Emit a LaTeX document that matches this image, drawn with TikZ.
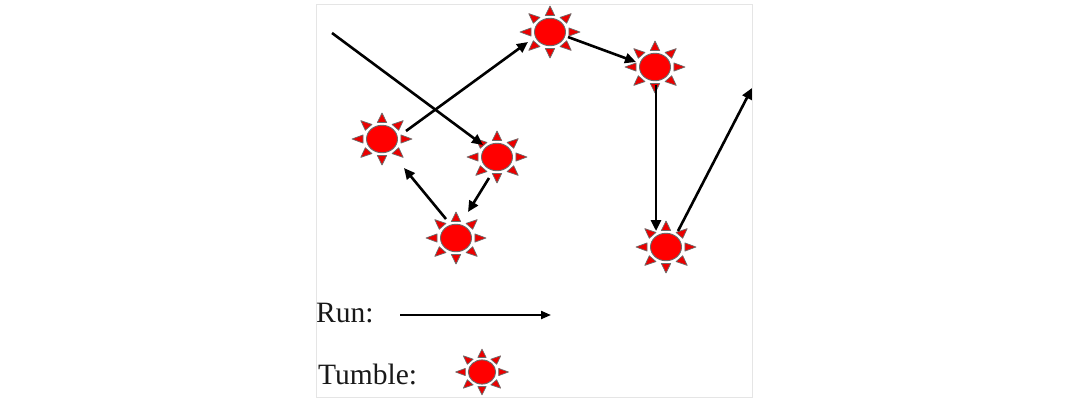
\documentclass[tikz,border=0pt]{standalone}
\usepackage{fontspec}
\setmainfont{Liberation Serif}
\usetikzlibrary{arrows.meta,shapes.geometric}
\definecolor{rayedge}{gray}{0.42}
\tikzset{
  x=1pt,y=-1pt,
  sunbody/.style={ellipse,draw=rayedge,line width=0.9pt,fill=red,inner sep=0pt},
  sunray/.style={draw=rayedge,line width=0.7pt,fill=red!92!black,line join=round},
  runarrow/.style={draw=black,line width=2.6pt,-{Triangle[length=11pt,width=10pt]}},
  legendarrow/.style={draw=black,line width=2.1pt,-{Triangle[length=10pt,width=8pt]}},
  caption/.style={anchor=base west,inner sep=0pt,font=\fontsize{29.5}{32}\selectfont,text=black!90},
}
\newcommand{\sunburst}[4]{%
  \node[sunbody,minimum width=#4*31pt,minimum height=#4*27.5pt] (#1) at (#2,#3) {};
  \foreach \t in {0,45,...,315}{
    \draw[sunray] ([shift={(\t:#4*30 and #4*26)}]#1.center)
      -- ([shift={(\t-14:#4*19.5 and #4*17)}]#1.center)
      -- ([shift={(\t+14:#4*19.5 and #4*17)}]#1.center) -- cycle;
  }%
}
\begin{document}
\begin{tikzpicture}
\useasboundingbox (0,0) rectangle (1065,400);
\fill[white] (0,0) rectangle (1065,400);
\draw[black!10,line width=0.8pt] (316,4) rectangle (752,397);

\sunburst{a}{382}{139}{1}
\sunburst{b}{497}{157}{1}
\sunburst{c}{456}{238}{1}
\sunburst{d}{550}{32}{1}
\sunburst{e}{655}{67}{1}
\sunburst{f}{666}{247}{1}
\sunburst{legendsun}{482}{372}{0.88}

\coordinate (start) at (332,33);
\coordinate (exit) at (752,88);
\coordinate (legendfrom) at (400,315);
\coordinate (legendto) at (551,315);

\draw[runarrow] (start) -- ([shift={(-14,-12)}]b.center);
\draw[runarrow] ([shift={(24,-8)}]a.center) -- ([shift={(-22,10)}]d.center);
\draw[runarrow] ([shift={(18,5)}]d.center) -- ([shift={(-19,-5)}]e.center);
\draw[runarrow] ([shift={(1,18)}]e.center) -- ([shift={(-10,-16)}]f.center);
\draw[runarrow] ([shift={(12,-16)}]f.center) -- (exit);
\draw[runarrow] ([shift={(-8,21)}]b.center) -- ([shift={(12,-26)}]c.center);
\draw[runarrow] ([shift={(-10,-19)}]c.center) -- ([shift={(22,29)}]a.center);
\draw[legendarrow] (legendfrom) -- (legendto);

\node[caption] (runlabel) at (316,322) {Run:};
\node[caption] (tumblelabel) at (318,384) {Tumble:};
\end{tikzpicture}
\end{document}
